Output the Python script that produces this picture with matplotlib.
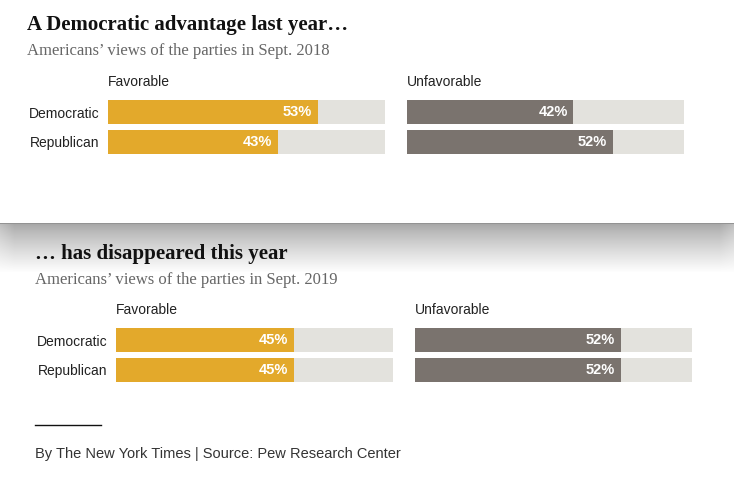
import matplotlib
matplotlib.use("Agg")
import matplotlib.pyplot as plt
import numpy as np

W, H = 734, 484

parties = ["Democratic", "Republican"]
fav_2018 = [53, 43]
unfav_2018 = [42, 52]
fav_2019 = [45, 45]
unfav_2019 = [52, 52]
scale_max = 70

YELLOW = "#e3a92b"
GREY = "#7a736e"
TRACK = "#e3e2dd"

SERIF = ["Liberation Serif", "DejaVu Serif"]
SANS = ["Liberation Sans", "DejaVu Sans"]

fig = plt.figure(figsize=(W / 100, H / 100), dpi=100)


def px_axes(x, y, w, h, **kw):
    return fig.add_axes([x / W, 1 - (y + h) / H, w / W, h / H], **kw)


# background with the card shadow between the two panels
bg = px_axes(0, 0, W, H)
yy = np.arange(H)[:, None].astype(float)
xx = np.arange(W)[None, :].astype(float)
t = np.clip((yy - 224) / 48.0, 0, 1)
shade = 0.66 + 0.34 * t ** 0.85
edge = np.clip(np.minimum(xx, W - 1 - xx) / 14.0, 0, 1)
shade = 1 - (1 - shade) * (0.75 + 0.25 * edge)
shade = np.where(yy < 223, 1.0, shade)
shade = np.where((yy >= 222.5) & (yy < 224), 0.58, shade)
bg.imshow(np.repeat(shade[:, :, None], 3, axis=2), aspect="auto",
          extent=(0, W, H, 0), interpolation="bilinear", vmin=0, vmax=1)
bg.set_xlim(0, W)
bg.set_ylim(H, 0)
bg.axis("off")


def bar_group(x, y_top, values, color, header, show_labels):
    ax = px_axes(x, y_top - 3, 277, 60)
    rows = np.arange(len(values))
    ax.barh(rows, [scale_max] * len(values), height=0.8, color=TRACK)
    ax.barh(rows, values, height=0.8, color=color)
    for r, v in zip(rows, values):
        ax.annotate(f"{v}%", (v, r), xytext=(-4, 0), textcoords="offset points",
                    ha="right", va="center", color="white", fontsize=10.5,
                    fontweight="bold", family=SANS)
    ax.set_xlim(0, scale_max)
    ax.set_ylim(1.5, -0.5)
    ax.set_xticks([])
    ax.set_yticks(rows)
    if show_labels:
        ax.set_yticklabels(parties, fontsize=10, family=SANS, color="#222222")
    else:
        ax.set_yticklabels([])
    ax.tick_params(length=0, pad=6)
    for s in ax.spines.values():
        s.set_visible(False)
    ax.patch.set_alpha(0)
    # column header sits one row above the first bar
    ax.text(0, -1.0, header, ha="left", va="center",
            fontsize=10, family=SANS, color="#222222", clip_on=False)
    return ax


# top panel: 2018
fig.text(27 / W, 1 - 25 / H, "A Democratic advantage last year…", family=SERIF,
         fontweight="bold", fontsize=15, va="center", ha="left", color="#111111")
fig.text(27 / W, 1 - 51 / H, "Americans’ views of the parties in Sept. 2018",
         family=SERIF, fontsize=12, va="center", ha="left", color="#666666")
bar_group(108, 100, fav_2018, YELLOW, "Favorable", True)
bar_group(407, 100, unfav_2018, GREY, "Unfavorable", False)

# bottom panel: 2019
fig.text(35 / W, 1 - 254 / H, "… has disappeared this year", family=SERIF,
         fontweight="bold", fontsize=15, va="center", ha="left", color="#111111")
fig.text(35 / W, 1 - 280 / H, "Americans’ views of the parties in Sept. 2019",
         family=SERIF, fontsize=12, va="center", ha="left", color="#666666")
bar_group(116, 328, fav_2019, YELLOW, "Favorable", True)
bar_group(415, 328, unfav_2019, GREY, "Unfavorable", False)

# footer
bg.plot([35, 101], [425, 425], color="#111111", lw=1)
fig.text(35 / W, 1 - 454 / H, "By The New York Times | Source: Pew Research Center",
         family=SANS, fontsize=10.5, va="center", ha="left", color="#333333")

fig.savefig("out.png", dpi=100)
